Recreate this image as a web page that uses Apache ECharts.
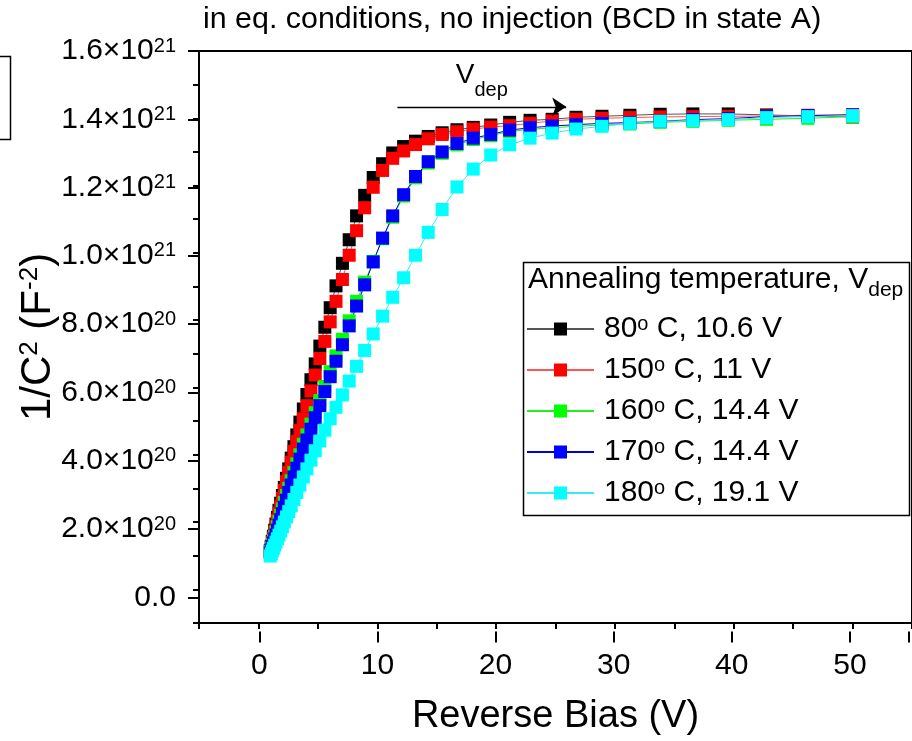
<!DOCTYPE html>
<html><head><meta charset="utf-8">
<script src="https://cdn.jsdelivr.net/npm/echarts@6/dist/echarts.min.js"></script>
<style>html,body{margin:0;padding:0;background:#fff;overflow:hidden}#c{width:912px;height:741px}</style>
</head><body><div id="c"></div>
<script>
// Reverse bias (V)
const voltage = [1.00,1.08,1.17,1.26,1.37,1.48,1.60,1.73,1.87,2.02,
  2.18,2.36,2.55,2.76,2.99,3.23,3.49,3.78,4.08,4.42,
  4.78,5.17,5.59,6.04,6.53,7.07,7.64,8.26,8.94,9.66,
  10.45,11.30,12.22,13.22,14.29,15.46,16.71,18.08,19.55,21.14,
  22.86,24.72,26.73,28.91,31.26,33.81,36.56,39.54,42.76,46.24,50.00];
// 1/C^2 in units of 1e21 F^-2
const t80 = [0.115,0.128,0.143,0.158,0.176,0.194,0.214,0.235,0.256,0.279,
  0.303,0.330,0.358,0.390,0.424,0.459,0.497,0.536,0.579,0.623,
  0.670,0.723,0.779,0.837,0.902,0.969,1.039,1.110,1.171,1.224,
  1.265,1.297,1.316,1.332,1.346,1.357,1.366,1.373,1.380,1.388,
  1.394,1.397,1.403,1.406,1.409,1.412,1.413,1.413,1.410,1.407,1.404];
const t150 = [0.113,0.125,0.139,0.153,0.170,0.187,0.206,0.226,0.247,0.270,
  0.294,0.320,0.348,0.378,0.410,0.440,0.472,0.507,0.546,0.590,
  0.637,0.686,0.737,0.795,0.856,0.921,0.993,1.066,1.134,1.195,
  1.245,1.281,1.303,1.322,1.339,1.352,1.360,1.368,1.374,1.378,
  1.385,1.392,1.397,1.400,1.402,1.404,1.405,1.406,1.407,1.409,1.411];
const t160 = [0.112,0.122,0.133,0.144,0.157,0.171,0.186,0.202,0.220,0.239,
  0.258,0.279,0.300,0.323,0.347,0.373,0.400,0.431,0.459,0.491,
  0.525,0.561,0.603,0.647,0.694,0.743,0.798,0.856,0.913,0.975,
  1.042,1.106,1.169,1.223,1.267,1.296,1.321,1.337,1.348,1.361,
  1.367,1.372,1.376,1.380,1.383,1.388,1.391,1.394,1.397,1.400,1.405];
const t170 = [0.108,0.117,0.127,0.138,0.150,0.162,0.176,0.191,0.207,0.225,
  0.244,0.265,0.288,0.310,0.334,0.360,0.387,0.417,0.444,0.476,
  0.510,0.546,0.588,0.632,0.678,0.727,0.783,0.842,0.905,0.973,
  1.044,1.110,1.173,1.227,1.271,1.300,1.325,1.341,1.352,1.365,
  1.372,1.377,1.381,1.385,1.387,1.391,1.396,1.399,1.405,1.408,1.410];
const t180 = [0.099,0.106,0.114,0.122,0.131,0.140,0.150,0.161,0.173,0.186,
  0.200,0.215,0.231,0.248,0.267,0.288,0.310,0.334,0.358,0.384,
  0.412,0.441,0.473,0.507,0.541,0.578,0.619,0.663,0.710,0.759,
  0.812,0.868,0.926,0.993,1.061,1.129,1.196,1.249,1.291,1.321,
  1.341,1.356,1.368,1.376,1.385,1.391,1.393,1.396,1.402,1.405,1.408];
const seriesValues = [t80, t150, t160, t170, t180];
const seriesNames = ['80^o C, 10.6 V','150^o C, 11 V','160^o C, 14.4 V','170^o C, 14.4 V','180^o C, 19.1 V'];
const seriesColors = ['#000000','#ff0000','#00ff00','#0000ff','#00ffff'];
const lineColors = ['#555555','#ff5555','#22ee22','#0000dd','#33eeee'];
const xTickLabels = ['0','10','20','30','40','50'];
const legendTitle = 'Annealing temperature, V{sub|dep}';
const chartTitle = 'in eq. conditions, no injection (BCD in state A)';
const vdepArrow = {x0: 11.7, x1: 25.9, y: 1.434};

const FONT = "'Liberation Sans', Arial, sans-serif";
const chart = echarts.init(document.getElementById('c'), null, {renderer: 'canvas'});

// layout: x: -5..55 over 12.06 px/V ; y: -0.1..1.6 over 341.5 px/unit
const gl = 199, gt = 51, pxV = 12.06, pxY = 341.5;

function yLabel(v) {
  const r = Math.round(v * 10) / 10;
  if (Math.abs(r) < 1e-9) return '0.0';
  if (r >= 1) return r.toFixed(1) + '×10{s|21}';
  return (r * 10).toFixed(1) + '×10{s|20}';
}

const series = seriesValues.map((vals, i) => ({
  name: seriesNames[i],
  type: 'line',
  xAxisIndex: 0, yAxisIndex: 0,
  data: voltage.map((v, k) => [v, vals[k]]),
  symbol: 'rect', symbolSize: 13, showSymbol: true, showAllSymbol: true,
  itemStyle: {color: seriesColors[i]},
  lineStyle: {color: lineColors[i], width: 1},
  emphasis: {disabled: true},
  animation: false
}));
series[0].markLine = {
  silent: true, animation: false,
  symbol: ['none', 'arrow'], symbolSize: 14,
  lineStyle: {color: '#000', width: 1.3, type: 'solid'},
  label: {show: true, position: 'middle', distance: 6, color: '#000',
    formatter: '{v|V}{d|dep}',
    rich: {v: {fontSize: 28, fontFamily: FONT, color: '#000', verticalAlign: 'top', lineHeight: 30},
           d: {fontSize: 20, fontFamily: FONT, color: '#000', verticalAlign: 'bottom', lineHeight: 40}}},
  data: [[{coord: [vdepArrow.x0, vdepArrow.y]}, {coord: [vdepArrow.x1, vdepArrow.y]}]]
};

const tickLab = {fontSize: 30, fontFamily: FONT, color: '#000'};

chart.setOption({
  animation: false,
  backgroundColor: '#fff',
  title: {text: chartTitle, left: 203, top: 5, padding: 0,
    textStyle: {fontSize: 30.4, fontWeight: 'normal', fontFamily: FONT, color: '#000'}},
  grid: [
    {left: gl, top: gt, width: 60 * pxV, height: 1.7 * pxY, show: true, borderColor: '#000', borderWidth: 2, containLabel: false},
    {left: gl + 5 * pxV, top: gt, width: 55 * pxV, height: 1.7 * pxY, show: false, containLabel: false},
    {left: gl, top: gt, width: 60 * pxV, height: 1.6 * pxY, show: false, containLabel: false}
  ],
  xAxis: [
    {type: 'value', gridIndex: 0, min: -5, max: 55, interval: 5,
     axisLine: {show: true, onZero: false, lineStyle: {color: '#000', width: 2}},
     axisTick: {show: true, length: 6, lineStyle: {color: '#000', width: 2}},
     axisLabel: {show: false}, splitLine: {show: false},
     name: 'Reverse Bias (V)', nameLocation: 'middle', nameGap: 75,
     nameTextStyle: {fontSize: 38, fontFamily: FONT, color: '#000'}},
    {type: 'value', gridIndex: 1, min: 0, max: 55, interval: 10,
     axisLine: {show: false, onZero: false},
     axisTick: {show: true, length: 11, lineStyle: {color: '#000', width: 2}},
     axisLabel: Object.assign({margin: 19, formatter: v => (v % 10 === 0 && v <= 50) ? xTickLabels[v / 10] : ''}, tickLab),
     splitLine: {show: false}},
    {type: 'value', gridIndex: 2, min: -5, max: 55, show: false}
  ],
  yAxis: [
    {type: 'value', gridIndex: 0, min: -0.1, max: 1.6, interval: 0.1,
     axisLine: {show: true, onZero: false, lineStyle: {color: '#000', width: 2}},
     axisTick: {show: true, length: 6, lineStyle: {color: '#000', width: 2}},
     axisLabel: {show: false}, splitLine: {show: false},
     name: '1/C{s|2} (F{s|-2})', nameLocation: 'middle', nameGap: 140,
     nameTextStyle: {fontSize: 42, fontFamily: FONT, color: '#000',
       rich: {s: {fontSize: 26, fontFamily: FONT, color: '#000', verticalAlign: 'top', lineHeight: 22}}}},
    {type: 'value', gridIndex: 1, min: -0.1, max: 1.6, show: false},
    {type: 'value', gridIndex: 2, min: 0, max: 1.6, interval: 0.2,
     axisLine: {show: false, onZero: false},
     axisTick: {show: true, length: 11, lineStyle: {color: '#000', width: 2}},
     axisLabel: Object.assign({margin: 23, formatter: yLabel,
       rich: {s: {fontSize: 20, fontFamily: FONT, color: '#000', verticalAlign: 'top', lineHeight: 15}}}, tickLab),
     splitLine: {show: false}}
  ],
  legend: {
    orient: 'vertical', left: 526, top: 314, padding: 0, itemGap: 11,
    itemWidth: 67, itemHeight: 16.25, selectedMode: false,
    data: seriesNames,
    formatter: n => n.replace('^o', '{s|o}'),
    textStyle: {fontSize: 30, fontFamily: FONT, color: '#000', lineHeight: 30, padding: [0, 0, 0, 5],
      rich: {s: {fontSize: 20, fontFamily: FONT, color: '#000', verticalAlign: 'top', lineHeight: 15}}}
  },
  graphic: [
    {type: 'rect', left: 521, top: 260, shape: {x: 0, y: 0, width: 386, height: 253},
     style: {fill: 'none', stroke: '#000', lineWidth: 1.5}, silent: true, z: 1},
    {type: 'text', left: 528, top: 265, silent: true, z: 2,
     style: {text: legendTitle, font: '30px ' + FONT, fill: '#000',
       rich: {sub: {fontSize: 21, fontFamily: FONT, fill: '#000', verticalAlign: 'bottom', lineHeight: 42}}}},
    {type: 'rect', left: -100, top: 54, shape: {x: 0, y: 0, width: 108, height: 83},
     style: {fill: 'none', stroke: '#000', lineWidth: 1.5}, silent: true}
  ],
  series: series
});
</script></body></html>
